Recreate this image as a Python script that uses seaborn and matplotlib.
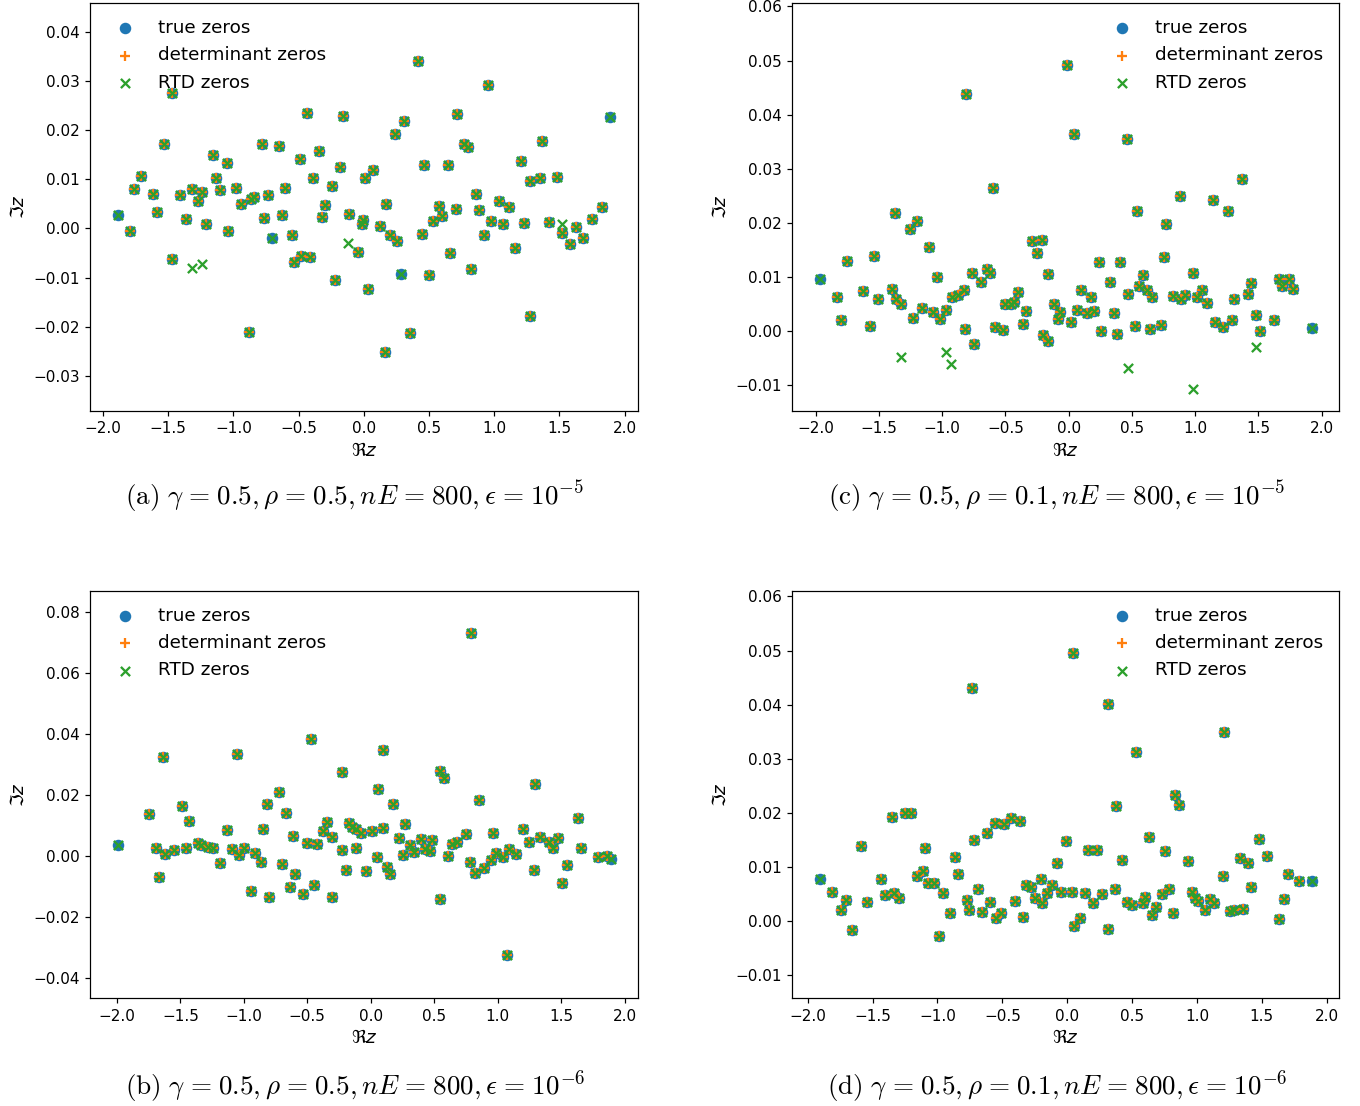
import matplotlib
matplotlib.use("Agg")
import matplotlib.pyplot as plt
import pandas as pd
import seaborn as sns

# ---------------------------------------------------------------------------
# Zeros in the complex plane, (Re z, Im z).
#   *_common   : found by all three methods
#   *_true_rtd : true zeros also found by RTD, missed by the determinant
#   *_rtd_only : spurious RTD zeros
# ---------------------------------------------------------------------------

# (a) gamma=0.5, rho=0.5, nE=800, eps=1e-5
a_common = [
    (-1.793, -0.0005), (-1.760, 0.0081), (-1.709, 0.0106), (-1.617, 0.0070), (-1.588, 0.0033),
    (-1.532, 0.0171), (-1.473, 0.0276), (-1.468, -0.0061), (-1.407, 0.0068), (-1.366, 0.0020),
    (-1.315, 0.0081), (-1.238, 0.0075), (-1.274, 0.0055), (-1.210, 0.0009), (-1.154, 0.0150),
    (-1.133, 0.0102), (-1.100, 0.0078), (-1.049, 0.0134), (-1.044, -0.0005), (-0.980, 0.0083),
    (-0.944, 0.0049), (-0.878, -0.0210), (-0.865, 0.0060), (-0.840, 0.0064), (-0.783, 0.0171),
    (-0.735, 0.0068), (-0.763, 0.0021), (-0.653, 0.0167), (-0.604, 0.0083), (-0.627, 0.0027),
    (-0.551, -0.0014), (-0.533, -0.0069), (-0.479, -0.0055), (-0.415, -0.0058), (-0.492, 0.0142),
    (-0.436, 0.0234), (-0.344, 0.0157), (-0.390, 0.0103), (-0.295, 0.0048), (-0.321, 0.0024),
    (-0.247, 0.0086), (-0.218, -0.0105), (-0.180, 0.0124), (-0.162, 0.0228), (-0.116, 0.0030),
    (-0.047, -0.0048), (-0.016, 0.0010), (-0.004, 0.0017), (0.009, 0.0102), (0.035, -0.0124),
    (0.071, 0.0119), (0.127, 0.0005), (0.168, 0.0050), (0.163, -0.0252), (0.198, -0.0014),
    (0.255, -0.0026), (0.237, 0.0192), (0.306, 0.0219), (0.357, -0.0212), (0.416, 0.0340),
    (0.462, 0.0129), (0.446, -0.0012), (0.498, -0.0095), (0.531, 0.0015), (0.577, 0.0046),
    (0.602, 0.0025), (0.646, 0.0130), (0.661, -0.0049), (0.710, 0.0040), (0.717, 0.0233),
    (0.771, 0.0171), (0.802, 0.0165), (0.822, -0.0082), (0.863, 0.0070), (0.886, 0.0038),
    (0.919, -0.0014), (0.955, 0.0291), (0.975, 0.0016), (1.039, 0.0055), (1.065, 0.0010),
    (1.116, 0.0043), (1.162, -0.0040), (1.203, 0.0137), (1.231, 0.0012), (1.275, -0.0177),
    (1.272, 0.0096), (1.351, 0.0103), (1.367, 0.0177), (1.420, 0.0014), (1.484, 0.0105),
    (1.522, -0.0009), (1.584, -0.0031), (1.627, 0.0003), (1.681, -0.0020), (1.750, 0.0020),
    (1.829, 0.0043),
]
a_true_rtd = [(-1.887, 0.0028), (-0.706, -0.0020), (0.288, -0.0092), (1.888, 0.0226)]
a_rtd_only = [(-1.315, -0.0080), (-1.238, -0.0073), (-0.119, -0.0029), (1.522, 0.0010)]

# (b) gamma=0.5, rho=0.5, nE=800, eps=1e-6
b_common = [
    (-1.749, 0.0137), (-1.689, 0.0024), (-1.671, -0.0070), (-1.639, 0.0325), (-1.618, 0.0005),
    (-1.550, 0.0019), (-1.490, 0.0164), (-1.458, 0.0026), (-1.430, 0.0113), (-1.358, 0.0041),
    (-1.337, 0.0035), (-1.285, 0.0029), (-1.243, 0.0024), (-1.188, -0.0023), (-1.132, 0.0083),
    (-1.096, 0.0023), (-1.056, 0.0333), (-1.038, 0.0002), (-0.996, 0.0024), (-0.943, -0.0116),
    (-0.914, 0.0010), (-0.864, -0.0022), (-0.849, 0.0088), (-0.817, 0.0169), (-0.799, -0.0136),
    (-0.723, 0.0210), (-0.699, -0.0027), (-0.667, 0.0141), (-0.638, -0.0104), (-0.615, 0.0065),
    (-0.594, -0.0061), (-0.531, -0.0126), (-0.505, 0.0043), (-0.473, 0.0384), (-0.444, -0.0095),
    (-0.421, 0.0039), (-0.374, 0.0082), (-0.347, 0.0110), (-0.305, -0.0135), (-0.305, 0.0062),
    (-0.229, 0.0019), (-0.224, 0.0275), (-0.192, -0.0046), (-0.169, 0.0108), (-0.150, 0.0093),
    (-0.118, 0.0026), (-0.116, 0.0088), (-0.079, 0.0075), (-0.039, -0.0051), (0.013, 0.0082),
    (0.047, -0.0003), (0.060, 0.0220), (0.099, 0.0347), (0.097, 0.0090), (0.126, -0.0036),
    (0.152, -0.0060), (0.178, 0.0169), (0.223, 0.0058), (0.268, 0.0105), (0.252, 0.0002),
    (0.310, 0.0035), (0.341, 0.0011), (0.396, 0.0055), (0.430, 0.0022), (0.481, 0.0051),
    (0.467, 0.0016), (0.548, -0.0143), (0.548, 0.0278), (0.578, 0.0256), (0.612, -0.0002),
    (0.641, 0.0038), (0.682, 0.0044), (0.749, 0.0071), (0.793, 0.0730), (0.780, -0.0021),
    (0.820, -0.0056), (0.851, 0.0183), (0.890, -0.0040), (0.946, -0.0014), (0.966, 0.0074),
    (0.990, 0.0010), (1.045, -0.0005), (1.090, 0.0023), (1.072, -0.0327), (1.143, 0.0007),
    (1.200, 0.0089), (1.245, 0.0045), (1.287, -0.0047), (1.295, 0.0235), (1.337, 0.0061),
    (1.405, 0.0045), (1.434, 0.0024), (1.476, 0.0058), (1.505, -0.0089), (1.545, -0.0030),
    (1.636, 0.0123), (1.657, 0.0025), (1.794, -0.0003), (1.860, 0.0000),
]
b_true_rtd = [(-1.994, 0.0035), (1.891, -0.0010)]
b_rtd_only = []

# (c) gamma=0.5, rho=0.1, nE=800, eps=1e-5
c_common = [
    (-1.828, 0.0062), (-1.802, 0.0020), (-1.753, 0.0130), (-1.624, 0.0073), (-1.573, 0.0010),
    (-1.537, 0.0138), (-1.505, 0.0059), (-1.397, 0.0078), (-1.375, 0.0218), (-1.365, 0.0059),
    (-1.326, 0.0049), (-1.252, 0.0188), (-1.197, 0.0203), (-1.231, 0.0024), (-1.162, 0.0043),
    (-1.102, 0.0156), (-1.075, 0.0035), (-1.039, 0.0100), (-1.017, 0.0022), (-0.968, 0.0039),
    (-0.925, 0.0063), (-0.877, 0.0067), (-0.830, 0.0075), (-0.812, 0.0438), (-0.817, 0.0004),
    (-0.746, -0.0024), (-0.762, 0.0107), (-0.696, 0.0091), (-0.646, 0.0115), (-0.625, 0.0107),
    (-0.596, 0.0265), (-0.580, 0.0008), (-0.522, 0.0002), (-0.501, 0.0050), (-0.456, 0.0050),
    (-0.435, 0.0054), (-0.398, 0.0072), (-0.361, 0.0013), (-0.338, 0.0036), (-0.290, 0.0166),
    (-0.213, 0.0168), (-0.253, 0.0144), (-0.203, -0.0008), (-0.166, -0.0018), (-0.161, 0.0105),
    (-0.119, 0.0050), (-0.066, 0.0035), (-0.087, 0.0022), (-0.016, 0.0492), (0.042, 0.0365),
    (0.016, 0.0017), (0.068, 0.0038), (0.100, 0.0075), (0.176, 0.0062), (0.147, 0.0033),
    (0.202, 0.0036), (0.237, 0.0128), (0.255, 0.0000), (0.326, 0.0091), (0.360, 0.0033),
    (0.382, -0.0006), (0.406, 0.0128), (0.463, 0.0355), (0.469, 0.0068), (0.526, 0.0009),
    (0.542, 0.0222), (0.553, 0.0084), (0.590, 0.0104), (0.621, 0.0076), (0.658, 0.0063),
    (0.645, 0.0004), (0.727, 0.0011), (0.756, 0.0136), (0.772, 0.0198), (0.822, 0.0065),
    (0.880, 0.0250), (0.885, 0.0059), (0.919, 0.0066), (0.980, 0.0108), (1.012, 0.0063),
    (1.051, 0.0075), (1.093, 0.0052), (1.138, 0.0242), (1.157, 0.0016), (1.217, 0.0007),
    (1.257, 0.0221), (1.293, 0.0020), (1.304, 0.0059), (1.370, 0.0281), (1.417, 0.0068),
    (1.439, 0.0088), (1.481, 0.0029), (1.512, 0.0000), (1.623, 0.0020), (1.665, 0.0096),
    (1.684, 0.0084), (1.744, 0.0096), (1.776, 0.0077),
]
c_true_rtd = [(-1.966, 0.0096), (1.926, 0.0005)]
c_rtd_only = [(-1.326, -0.0049), (-0.968, -0.0039), (-0.930, -0.0062),
              (0.469, -0.0068), (0.980, -0.0107), (1.481, -0.0029)]

# (d) gamma=0.5, rho=0.1, nE=800, eps=1e-6
d_common = [
    (-1.815, 0.0054), (-1.743, 0.0020), (-1.702, 0.0039), (-1.656, -0.0017), (-1.587, 0.0138),
    (-1.545, 0.0035), (-1.437, 0.0078), (-1.404, 0.0048), (-1.350, 0.0193), (-1.337, 0.0052),
    (-1.296, 0.0042), (-1.250, 0.0199), (-1.204, 0.0200), (-1.155, 0.0084), (-1.114, 0.0092),
    (-1.096, 0.0134), (-1.075, 0.0070), (-1.024, 0.0070), (-0.986, -0.0027), (-0.960, 0.0052),
    (-0.906, 0.0014), (-0.862, 0.0119), (-0.839, 0.0086), (-0.775, 0.0039), (-0.759, 0.0020),
    (-0.736, 0.0430), (-0.718, 0.0150), (-0.690, 0.0059), (-0.657, 0.0017), (-0.618, 0.0163),
    (-0.597, 0.0035), (-0.556, 0.0181), (-0.549, 0.0006), (-0.510, 0.0015), (-0.485, 0.0179),
    (-0.431, 0.0191), (-0.405, 0.0037), (-0.364, 0.0184), (-0.341, 0.0008), (-0.320, 0.0067),
    (-0.281, 0.0062), (-0.246, 0.0042), (-0.202, 0.0078), (-0.197, 0.0033), (-0.153, 0.0051),
    (-0.115, 0.0067), (-0.079, 0.0108), (-0.045, 0.0053), (-0.009, 0.0148), (0.035, 0.0053),
    (0.042, 0.0496), (0.055, -0.0009), (0.099, 0.0005), (0.137, 0.0052), (0.163, 0.0131),
    (0.197, 0.0033), (0.232, 0.0131), (0.271, 0.0049), (0.312, 0.0401), (0.312, -0.0015),
    (0.366, 0.0059), (0.376, 0.0213), (0.422, 0.0112), (0.459, 0.0035), (0.497, 0.0030),
    (0.533, 0.0312), (0.587, 0.0033), (0.602, 0.0044), (0.628, 0.0156), (0.651, 0.0011),
    (0.684, 0.0025), (0.733, 0.0049), (0.754, 0.0129), (0.782, 0.0059), (0.813, 0.0015),
    (0.831, 0.0232), (0.864, 0.0215), (0.933, 0.0111), (0.962, 0.0054), (0.985, 0.0042),
    (1.006, 0.0036), (1.064, 0.0020), (1.103, 0.0040), (1.129, 0.0034), (1.201, 0.0084),
    (1.206, 0.0350), (1.255, 0.0019), (1.288, 0.0020), (1.357, 0.0022), (1.334, 0.0116),
    (1.393, 0.0108), (1.417, 0.0062), (1.481, 0.0151), (1.542, 0.0120), (1.635, 0.0004),
    (1.671, 0.0040), (1.702, 0.0087), (1.784, 0.0073),
]
d_true_rtd = [(-1.905, 0.0077), (1.889, 0.0074)]
d_rtd_only = []

# Subfigure captions; "=" gets TeX-like spacing on both sides
EQ = r"\hspace{0.1}=\hspace{0.1}"
captions = [
    rf"$\mathrm{{(a)}}\ \gamma {EQ} 0.5, \rho {EQ} 0.5, nE {EQ} 800, \epsilon {EQ} 10^{{-5}}$",
    rf"$\mathrm{{(b)}}\ \gamma {EQ} 0.5, \rho {EQ} 0.5, nE {EQ} 800, \epsilon {EQ} 10^{{-6}}$",
    rf"$\mathrm{{(c)}}\ \gamma {EQ} 0.5, \rho {EQ} 0.1, nE {EQ} 800, \epsilon {EQ} 10^{{-5}}$",
    rf"$\mathrm{{(d)}}\ \gamma {EQ} 0.5, \rho {EQ} 0.1, nE {EQ} 800, \epsilon {EQ} 10^{{-6}}$",
]

# ---------------------------------------------------------------------------
palette = sns.color_palette("tab10")
C_TRUE, C_DET, C_RTD = palette[0], palette[1], palette[2]
SCALE = 1.1
MS = 44
LW = 1.5 * SCALE


def frame(points):
    return pd.DataFrame(points, columns=["re", "im"])


def draw(ax, common, true_rtd, rtd_only, xlim, ylim, loc):
    true_df = frame(common + true_rtd)
    det_df = frame(common)
    rtd_df = frame(common + true_rtd + rtd_only)

    sns.scatterplot(data=true_df, x="re", y="im", ax=ax, marker="o", s=MS,
                    color=C_TRUE, edgecolor=C_TRUE, linewidth=LW,
                    label="true zeros", legend=False)
    sns.scatterplot(data=det_df, x="re", y="im", ax=ax, marker="+", s=MS,
                    color=C_DET, linewidth=LW, label="determinant zeros", legend=False)
    sns.scatterplot(data=rtd_df, x="re", y="im", ax=ax, marker="x", s=MS,
                    color=C_RTD, linewidth=LW, label="RTD zeros", legend=False)

    ax.set_xlim(*xlim)
    ax.set_ylim(*ylim)
    ax.set_xlabel(r"$\Re z$", fontsize=13.2)
    ax.set_ylabel(r"$\Im z$", fontsize=13.2)
    ax.tick_params(labelsize=11, length=3.5 * SCALE, width=0.8 * SCALE)
    for sp in ax.spines.values():
        sp.set_linewidth(0.8 * SCALE)
    ax.legend(loc=loc, frameon=False, fontsize=13.2)


W, H = 1360, 1106
fig = plt.figure(figsize=(W / 100, H / 100), dpi=100)


def axes_px(left, top, right, bottom):
    return fig.add_axes([left / W, 1 - bottom / H, (right - left) / W, (bottom - top) / H])


ax_a = axes_px(90, 2.7, 638, 411)
ax_c = axes_px(792, 2.7, 1339.3, 411)
ax_b = axes_px(90, 590.5, 638, 998.3)
ax_d = axes_px(792.3, 590.5, 1339.3, 998.3)

draw(ax_a, a_common, a_true_rtd, a_rtd_only, (-2.100, 2.103), (-0.0371, 0.0459), "upper left")
draw(ax_b, b_common, b_true_rtd, b_rtd_only, (-2.212, 2.106), (-0.0468, 0.0871), "upper left")
draw(ax_c, c_common, c_true_rtd, c_rtd_only, (-2.187, 2.139), (-0.0148, 0.0607), "upper right")
draw(ax_d, d_common, d_true_rtd, d_rtd_only, (-2.119, 2.097), (-0.0143, 0.0611), "upper right")

cap_pos = [(355, 497), (355, 1087), (1057, 497), (1057, 1087)]
for (cx, cy), text in zip(cap_pos, captions):
    fig.text(cx / W, 1 - cy / H, text, ha="center", va="center",
             fontsize=19.5, math_fontfamily="cm")

fig.savefig("out.png", dpi=100)
